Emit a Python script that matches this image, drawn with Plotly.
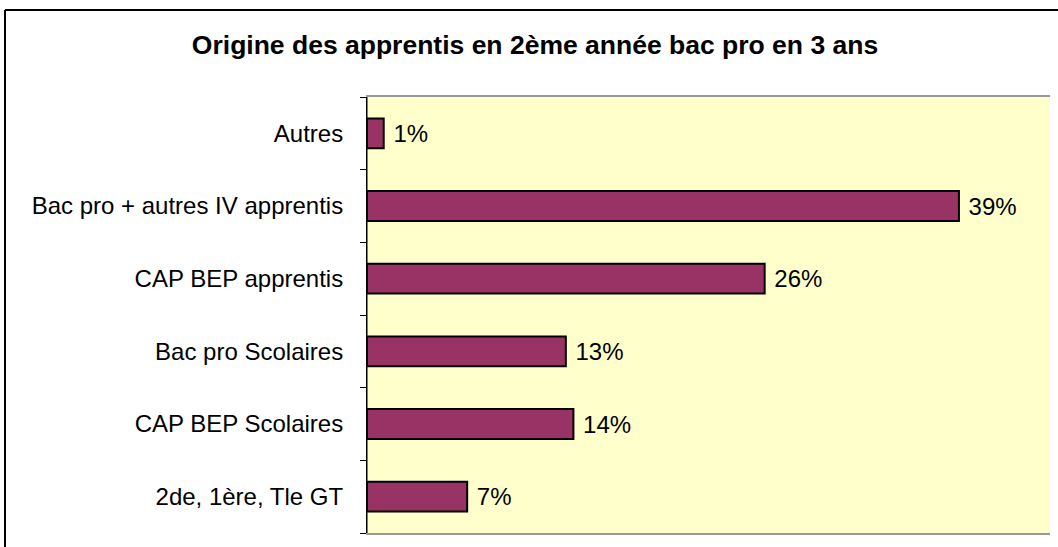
import plotly.graph_objects as go

categories = ["2de, 1ère, Tle GT", "CAP BEP Scolaires", "Bac pro Scolaires",
              "CAP BEP apprentis", "Bac pro + autres IV apprentis", "Autres"]
values = [0.066, 0.136, 0.131, 0.262, 0.39, 0.011]
title_text = "Origine des apprentis en 2ème année bac pro en 3 ans"

W, H = 1058, 547
L, R, T, B = 367, 8, 97, 14
pw = W - L - R
ph = H - T - B

fig = go.Figure(go.Bar(
    y=categories, x=values, orientation="h",
    marker=dict(color="#993366", line=dict(color="#000000", width=2)),
    texttemplate="\u00a0%{x:.0%}", textposition="outside",
    textfont=dict(family="Liberation Sans, Arial", size=24, color="#000000"),
    cliponaxis=False, width=0.41,
))

def px(x):
    return (x - L) / pw

def py(y):
    return 1 - (y - T) / ph

fig.update_layout(
    width=W, height=H,
    margin=dict(l=L, r=R, t=T, b=B, autoexpand=False),
    paper_bgcolor="#FFFFFF", plot_bgcolor="#FFFFCC",
    font=dict(family="Liberation Sans, Arial", size=24, color="#000000"),
    title=dict(text="<b>" + title_text + "</b>", x=535 / W, xref="container", xanchor="center",
               y=1 - 45 / H, yanchor="middle", yref="container",
               font=dict(family="Liberation Sans, Arial", size=26.5, color="#000000")),
    showlegend=False,
    xaxis=dict(range=[0, 0.45], showticklabels=False, showgrid=False, zeroline=False,
               ticks="", showline=True, linecolor="#999999", linewidth=2, mirror=True),
    yaxis=dict(showgrid=False, zeroline=False, ticks="outside", tickson="boundaries",
               ticklen=6, tickcolor="#000000", showline=True, linecolor="#000000",
               linewidth=1, ticklabelstandoff=18, tickfont=dict(size=24)),
    shapes=[
        dict(type="line", xref="paper", yref="paper", x0=px(5), x1=px(1070),
             y0=py(10), y1=py(10), line=dict(color="#000000", width=2)),
        dict(type="line", xref="paper", yref="paper", x0=px(5), x1=px(5),
             y0=py(10), y1=py(560), line=dict(color="#000000", width=2)),
        dict(type="line", xref="paper", yref="paper", x0=0, x1=0,
             y0=0, y1=1, line=dict(color="#000000", width=1)),
    ],
)

fig.write_html("out.html", config={"displayModeBar": False},
               post_script="document.body.style.margin='0';")
